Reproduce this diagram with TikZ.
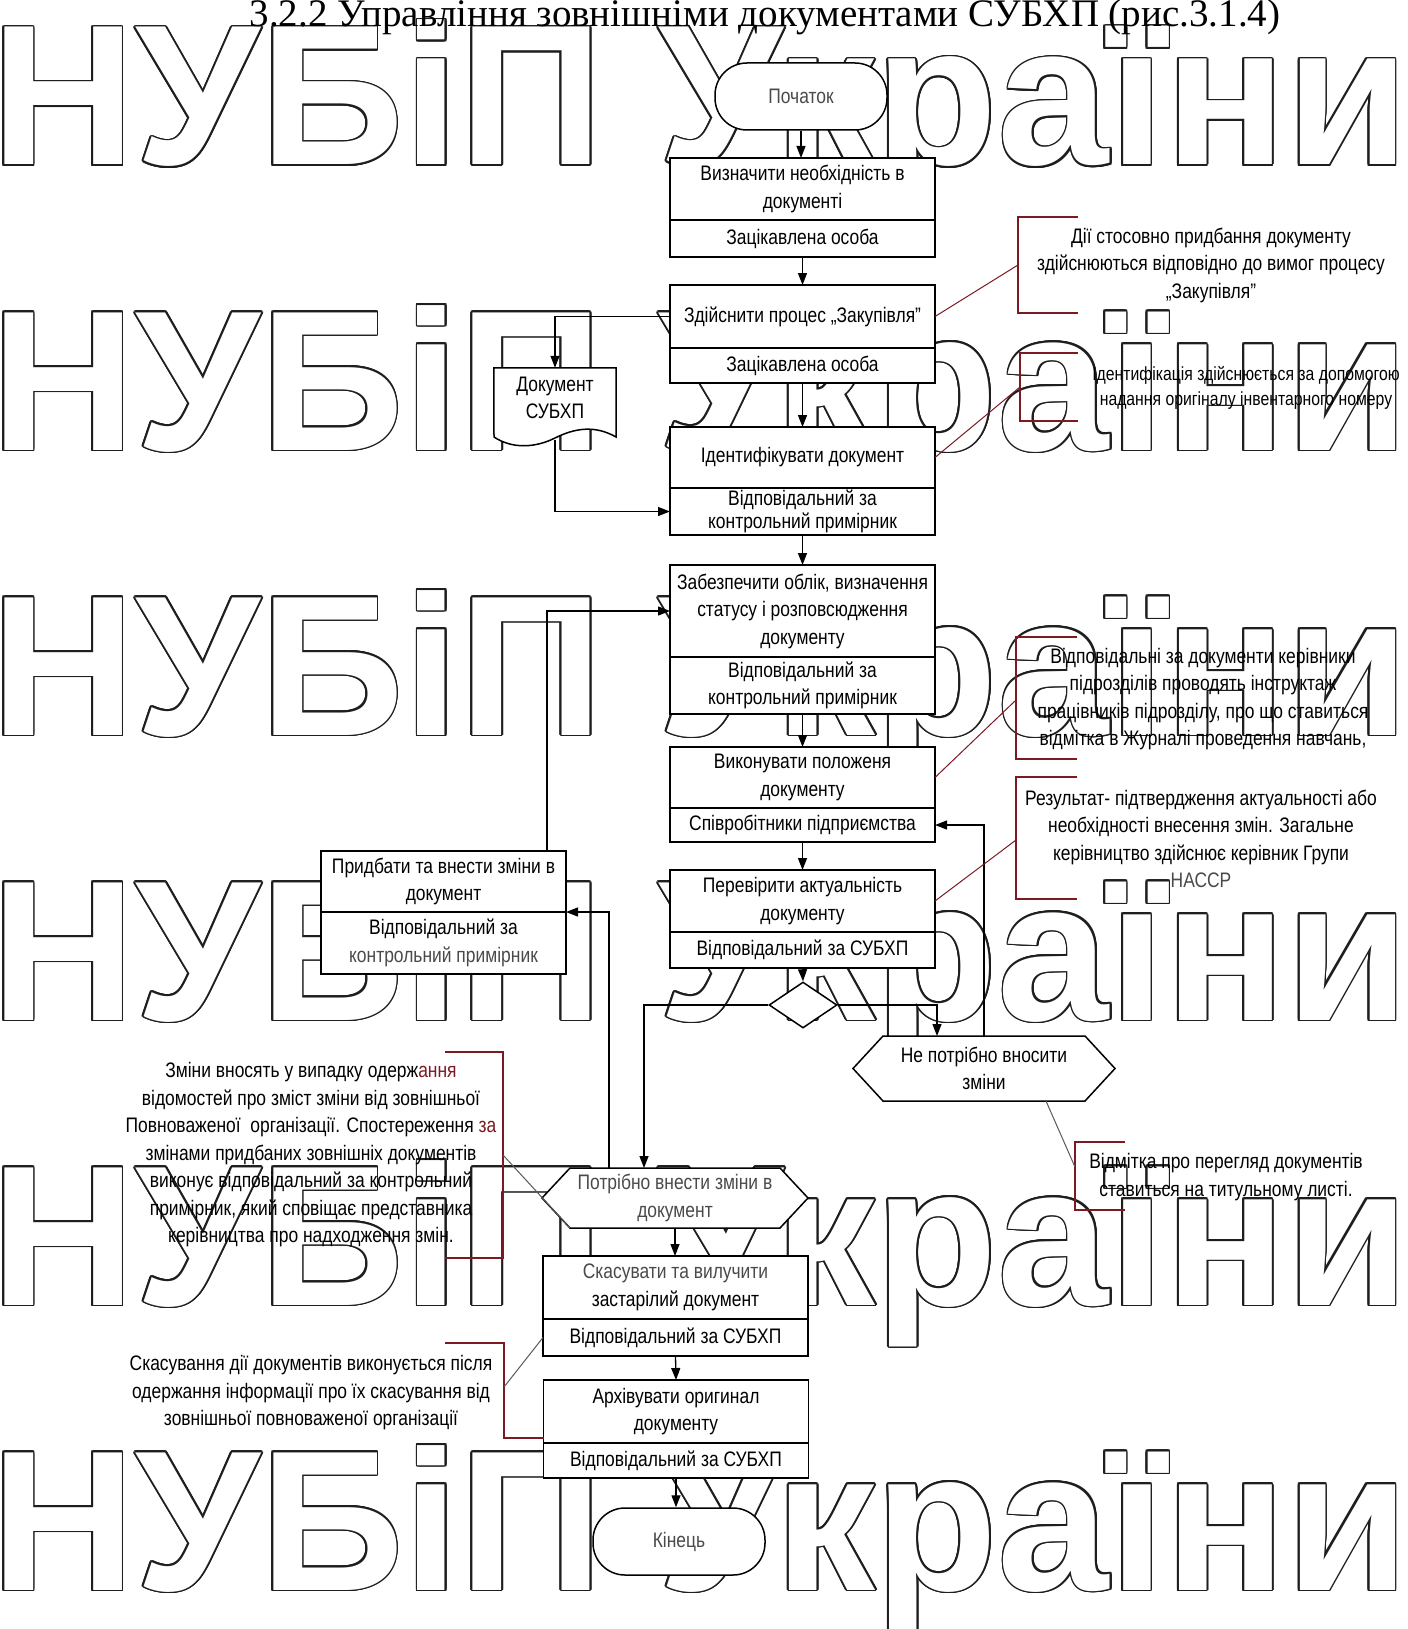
\documentclass[tikz,border=0pt]{standalone}
\usepackage{fontspec}
\setmainfont{Liberation Sans}
\newfontfamily\nf[FakeStretch=0.83]{Liberation Sans}
\newfontfamily\wmf{Liberation Sans Bold}
\newfontfamily\ttlf{Liberation Serif}
\usetikzlibrary{shapes.geometric,arrows.meta,calc}
\pgfdeclarelayer{wm}
\pgfdeclarelayer{bgl}
\pgfsetlayers{wm,bgl,main}
\definecolor{annred}{HTML}{7B1A22}
\definecolor{txtgray}{HTML}{4A4A4A}
\definecolor{wmcol}{HTML}{1E1E1E}
\newcommand\bfs{\nf\fontsize{21}{27.5}\selectfont}
\begin{document}
\begin{tikzpicture}[x=1pt,y=-1pt,
  box/.style={draw=black, line width=1.5pt, fill=white, minimum width=265pt, inner sep=0pt, outer sep=0pt, align=center, font=\bfs, anchor=north},
  term/.style={draw=black, line width=1.5pt, fill=white, rounded corners=32pt, minimum width=172pt, minimum height=67pt, inner sep=0pt, font=\bfs, text=txtgray},
  hexn/.style={inner sep=0pt, outer sep=0pt, align=center, font=\bfs},
  shp/.style={draw=black, line width=1.5pt, fill=white},
  arr/.style={draw=black, line width=1.3pt, -{Triangle[length=12pt,width=9pt]}},
  ann/.style={align=center, font=\bfs, inner sep=0pt},
  brk/.style={draw=annred, line width=1.5pt},
  lnk/.style={draw=annred, line width=1pt},
  glnk/.style={draw=black!65, line width=1pt},
  wmn/.style={anchor=base west, inner sep=0pt, font=\wmf\fontsize{200}{204}\selectfont},
]
\useasboundingbox (0,0) rectangle (1407,1629);

% watermark
\begin{pgfonlayer}{wm}
\foreach \r in {0,...,5}{
  \pgfmathsetmacro{\yy}{165+285*\r}
  \foreach \a [count=\i] in {0,22.5,...,337.5}{
    \node[wmn, text=wmcol] (wm\r c\i) at ($(-9,\yy)+(\a:1.8)$) {НУБіП України};
  }
  \node[wmn, text=white] (wm\r) at (-9,\yy) {НУБіП України};
}
\end{pgfonlayer}

% title
\node[font=\ttlf\fontsize{39}{40}\selectfont, anchor=base, inner sep=0pt] (title) at (765,27) {3.2.2 Управління зовнішніми документами СУБХП (рис.3.1.4)};

% main column
\node[term] (start) at (801,96.5) {Початок};
\node[box, minimum height=62pt] (b2) at (802.5,158) {Визначити необхідність в\\документі};
\node[box, minimum height=37pt] (b2r) at (b2.south) {Зацікавлена особа};
\node[box, minimum height=63pt] (b3) at (802.5,285) {Здійснити процес „Закупівля”};
\node[box, minimum height=35pt] (b3r) at (b3.south) {Зацікавлена особа};
\node[box, minimum height=61pt] (b4) at (802.5,427) {Ідентифікувати документ};
\node[box, minimum height=47pt, font=\nf\fontsize{21}{22.5}\selectfont] (b4r) at (b4.south) {Відповідальний за\\контрольний примірник};
\node[box, minimum height=92pt] (b5) at (802.5,565) {Забезпечити облік, визначення\\статусу і розповсюдження\\документу};
\node[box, minimum height=57pt] (b5r) at (b5.south) {Відповідальний за\\контрольний примірник};
\node[box, minimum height=61pt] (b6) at (802.5,747) {Виконувати положеня\\документу};
\node[box, minimum height=34pt] (b6r) at (b6.south) {Співробітники підприємства};
\node[box, minimum height=62pt] (b7) at (802.5,870) {Перевірити актуальність\\документу};
\node[box, minimum height=36pt] (b7r) at (b7.south) {Відповідальний за СУБХП};
\node[diamond, shp, minimum width=68pt, minimum height=46pt, inner sep=0pt] (dia) at (803,1005) {};

% left box
\node[box, minimum width=245pt, minimum height=61pt] (b8) at (443.5,851) {Придбати та внести зміни в\\документ};
\node[box, minimum width=245pt, minimum height=62pt] (b8r) at (b8.south) {Відповідальний за\\\textcolor{txtgray}{контрольний примірник}};

% document shape
\node[minimum width=122pt, minimum height=72pt, inner sep=0pt] (doc) at (555,404) {};
\begin{pgfonlayer}{bgl}
\draw[shp] (doc.north west) -- (doc.north east) -- (616,437) .. controls (595,425) and (575,428) .. (555,438) .. controls (535,448) and (512,449) .. (494,437) -- cycle;
\end{pgfonlayer}
\node[ann] (docl) at (555,398) {Документ\\СУБХП};

% hexagons
\node[hexn, minimum width=202pt, minimum height=65pt] (no) at (984,1068.5) {Не потрібно вносити\\зміни};
\node[hexn, minimum width=210pt, minimum height=60pt, text=txtgray] (yes) at (675,1198) {Потрібно внести зміни в\\документ};
\begin{pgfonlayer}{bgl}
\draw[shp] (no.north west) -- (no.north east) -- ($(no.east)+(30,0)$) -- (no.south east) -- (no.south west) -- ($(no.west)+(-30,0)$) -- cycle;
\draw[shp] (yes.north west) -- (yes.north east) -- ($(yes.east)+(28,0)$) -- (yes.south east) -- (yes.south west) -- ($(yes.west)+(-28,0)$) -- cycle;
\end{pgfonlayer}

% lower column
\node[box, minimum height=63pt] (b9) at (675.5,1256) {\textcolor{txtgray}{Скасувати та вилучити}\\застарілий документ};
\node[box, minimum height=37pt] (b9r) at (b9.south) {Відповідальний за СУБХП};
\node[box, minimum height=63pt] (b10) at (676,1380) {Архівувати оригинал\\документу};
\node[box, minimum height=35pt] (b10r) at (b10.south) {Відповідальний за СУБХП};
\node[term] (end) at (679,1541.5) {Кінець};

% connectors
\draw[arr] (start.south) -- (b2.north -| start.south);
\draw[arr] (b2r.south) -- (b3.north);
\draw[arr] (b3r.south) -- (b4.north);
\draw[arr] (b4r.south) -- (b5.north);
\draw[arr] (b5r.south) -- (b6.north);
\draw[arr] (b6r.south) -- (b7.north);
\draw[arr] (b7r.south) -- (dia.north);
\draw[arr] (b3.west) -| (doc.north);
\draw[arr] (doc.south) |- (b4r.west);
\draw[arr] ($(b8.north east)+(-19,0)$) |- (b5.west);
\draw[arr] (dia.west) -| ($(yes.north)+(-31,0)$);
\draw[arr] ($(yes.north)+(-66,0)$) |- (b8.south east);
\draw[arr] (dia.east) -| ($(no.north)+(-47,0)$);
\draw[arr] (no.north) |- (b6r.east);
\draw[arr] (yes.south) -- (b9.north -| yes.south);
\draw[arr] (b9r.south) -- (b10.north);
\draw[arr] (b10r.south) -- (end.north -| b10r.south);

% annotations
\node[ann] (a1) at (1211,265) {Дії стосовно придбання документу\\здійснюються відповідно до вимог процесу\\„Закупівля”};
\draw[brk] (1078,217) -- (1018,217) -- (1018,313) -- (1078,313);
\coordinate (k1) at (1018,265);
\draw[lnk] (b3.east) -- (k1);

\node[ann, font=\nf\fontsize{19}{25}\selectfont] (a2) at (1246,388) {Ідентифікація здійснюється за допомогою\\надання оригіналу інвентарного номеру};
\draw[brk] (1078,353) -- (1020,353) -- (1020,421) -- (1078,421);
\coordinate (k2) at (1020,387);
\draw[lnk] (b4.east) -- (k2);

\node[ann] (a3) at (1203,699) {Відповідальні за документи керівники\\підрозділів проводять інструктаж\\працівників підрозділу, про що ставиться\\відмітка в Журналі проведення навчань,};
\draw[brk] (1077,637) -- (1016,637) -- (1016,759) -- (1077,759);
\coordinate (k3) at (1016,700);
\draw[lnk] (b6.east) -- (k3);

\node[ann] (a4) at (1201,839) {Результат- підтвердження актуальності або\\необхідності внесення змін. Загальне\\керівництво здійснює керівник Групи\\\textcolor{txtgray}{НАССР}};
\draw[brk] (1077,777) -- (1016,777) -- (1016,899) -- (1077,899);
\coordinate (k4) at (1016,840);
\draw[lnk] (b7.east) -- (k4);

\node[ann] (a5) at (1226,1177) {Відмітка про перегляд документів\\ставиться на титульному листі.};
\draw[brk] (1125,1142) -- (1075,1142) -- (1075,1210) -- (1125,1210);
\coordinate (k5) at (1075,1167);
\draw[glnk] ($(no.south)+(62,0)$) -- (k5);

\node[ann] (l1) at (311,1155) {Зміни вносять у випадку одерж\textcolor{annred}{ання}\\відомостей про зміст зміни від зовнішньої\\Повноваженої\ \ організації. Спостереження \textcolor{annred}{за}\\змінами придбаних зовнішніх документів\\виконує відповідальний за контрольний\\примірник, який сповіщає представника\\керівництва про надходження змін.};
\draw[brk] (445,1052) -- (503,1052) -- (503,1258) -- (445,1258);
\coordinate (k6) at (503,1155);
\draw[glnk] (k6) -- (yes.south west);

\node[ann] (l2) at (311,1393) {Скасування дії документів виконується після\\одержання інформації про їх скасування від\\зовнішньої повноваженої організації};
\draw[brk] (445,1343) -- (504,1343) -- (504,1438) -- (544,1438);
\coordinate (k7) at (504,1387);
\draw[glnk] (k7) -- (b9r.west);
\end{tikzpicture}
\end{document}
